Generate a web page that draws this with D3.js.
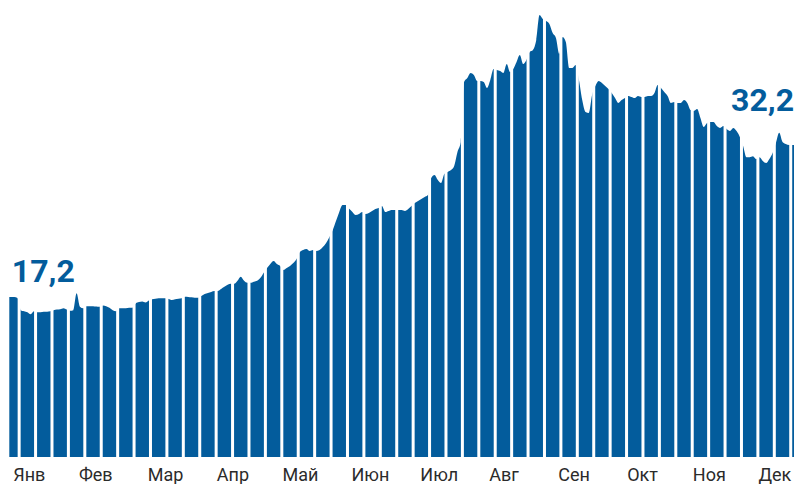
<!DOCTYPE html>
<html>
<head>
<meta charset="utf-8">
<script src="https://cdn.jsdelivr.net/npm/d3@7"></script>
<style>
  body { margin: 0; background: #fff; }
  svg { display: block; }
</style>
</head>
<body>
<div id="chart"></div>
<script>
// daily values, grouped by trading week (first and last weeks are partial)
var weeklyValues = [
  [17.2, 17.2, 17.1],
  [15.9, 15.8, 15.7, 15.5, 15.8],
  [15.7, 15.7, 15.75, 15.75, 15.8],
  [15.9, 15.96, 16.0, 16.1, 15.96],
  [15.85, 15.9, 17.56, 16.24, 16.08],
  [16.3, 16.3, 16.3, 16.26, 16.24],
  [16.35, 16.3, 16.15, 15.9, 15.8],
  [16.1, 16.1, 16.1, 16.15, 16.15],
  [16.56, 16.7, 16.75, 16.65, 16.85],
  [16.97, 17.03, 17.07, 17.07, 17.07],
  [17.0, 16.9, 16.97, 17.03, 17.07],
  [17.23, 17.2, 17.17, 17.13, 17.13],
  [17.3, 17.5, 17.6, 17.7, 17.79],
  [17.8, 18.0, 18.2, 18.4, 18.5],
  [18.5, 18.8, 19.2, 18.8, 18.6],
  [18.6, 18.7, 18.8, 19.1, 19.6],
  [20.06, 20.45, 20.75, 20.45, 20.26],
  [19.86, 20.06, 20.26, 20.55, 20.95],
  [21.64, 21.84, 21.94, 21.74, 21.84],
  [21.74, 21.84, 22.13, 22.53, 23.12],
  [23.8, 24.7, 25.59, 26.28, 26.28],
  [25.9, 25.59, 25.29, 25.39, 25.59],
  [25.39, 25.49, 25.69, 25.88, 25.98],
  [26.18, 25.59, 25.69, 25.79, 25.79],
  [25.79, 25.79, 25.69, 25.88, 26.18],
  [26.48, 26.67, 26.87, 27.07, 27.27],
  [28.94, 29.24, 28.75, 28.45, 29.34],
  [29.54, 29.73, 30.13, 31.51, 32.5],
  [38.42, 38.81, 39.31, 39.11, 38.52],
  [38.52, 38.42, 37.83, 38.62, 39.7],
  [39.6, 39.5, 39.31, 40.19, 39.4],
  [39.7, 40.39, 41.08, 40.19, 40.59],
  [41.38, 41.58, 42.56, 45.03, 44.63],
  [44.44, 44.14, 43.25, 42.76, 41.18],
  [42.86, 42.36, 39.8, 39.8, 40.1],
  [38.62, 36.64, 35.46, 35.36, 37.13],
  [38.02, 38.52, 38.32, 38.02, 37.73],
  [37.33, 36.84, 36.35, 36.64, 36.84],
  [37.04, 36.94, 36.84, 37.04, 36.94],
  [36.94, 37.04, 37.04, 37.33, 38.12],
  [37.83, 37.43, 37.04, 36.35, 36.44],
  [36.35, 36.35, 36.64, 36.35, 35.65],
  [35.56, 35.75, 34.86, 33.98, 34.37],
  [34.47, 34.47, 34.07, 33.88, 34.07],
  [33.78, 33.58, 33.88, 33.58, 33.0],
  [32.1, 31.0, 31.0, 31.1, 30.82],
  [31.0, 30.62, 30.42, 30.82, 31.41],
  [32.4, 33.4, 32.5, 32.3, 32.2],
  [32.2]
];

var monthLabels = ["Янв", "Фев", "Мар", "Апр", "Май", "Июн", "Июл", "Авг", "Сен", "Окт", "Ноя", "Дек"];
var monthStartDay = [1, 21, 42, 63, 83, 104, 125, 146, 167, 188, 208, 228];

var width = 796,
    height = 484,
    baseY = 457;
var blue = "#035c9c";

var values = weeklyValues.flat();
var n = values.length;

var svg = d3.select("#chart")
    .append("svg")
    .attr("width", width)
    .attr("height", height);

var x = d3.scaleLinear()
    .domain([-0.5, n - 0.5])
    .range([9.3, 794]);

var y = d3.scaleLinear()
    .domain([0, 45])
    .range([471.3, 15.3]);

// pad both ends so the first and last bars reach the edges
var points = values.map(function (v, i) { return [i, v]; });
points.unshift([-0.5, values[0]]);
points.push([n - 0.5, values[n - 1]]);

var area = d3.area()
    .x(function (d) { return x(d[0]); })
    .y0(baseY)
    .y1(function (d) { return y(d[1]); })
    .curve(d3.curveMonotoneX);

svg.append("path")
    .datum(points)
    .attr("d", area)
    .attr("fill", blue);

// white gaps between weeks
var boundaries = [];
var idx = 0;
weeklyValues.forEach(function (w, k) {
    if (k > 0) boundaries.push(idx);
    idx += w.length;
});

svg.selectAll("rect.gap")
    .data(boundaries)
    .enter()
    .append("rect")
    .attr("class", "gap")
    .attr("x", function (d) { return x(d - 0.5) - 1.5; })
    .attr("y", 0)
    .attr("width", 3)
    .attr("height", baseY + 1)
    .attr("fill", "#fff");

// month labels
svg.selectAll("text.month")
    .data(monthLabels)
    .enter()
    .append("text")
    .attr("class", "month")
    .attr("x", function (d, i) { return x(monthStartDay[i]) - 1; })
    .attr("y", 481)
    .text(function (d) { return d; })
    .style("font-family", "Roboto, sans-serif")
    .style("font-size", "18px")
    .style("fill", "#2b2b2b");

// first and last value
var fmt = function (v) { return d3.format(".1f")(v).replace(".", ","); };

svg.append("text")
    .attr("x", x(-0.5) + 2.5)
    .attr("y", y(values[0]) - 15)
    .text(fmt(values[0]))
    .style("font-family", "Roboto, sans-serif")
    .style("font-weight", "bold")
    .style("font-size", "32px")
    .style("fill", blue);

svg.append("text")
    .attr("x", x(n - 0.5))
    .attr("y", y(values[n - 1]) - 34)
    .attr("text-anchor", "end")
    .text(fmt(values[n - 1]))
    .style("font-family", "Roboto, sans-serif")
    .style("font-weight", "bold")
    .style("font-size", "32px")
    .style("fill", blue);
</script>
</body>
</html>
